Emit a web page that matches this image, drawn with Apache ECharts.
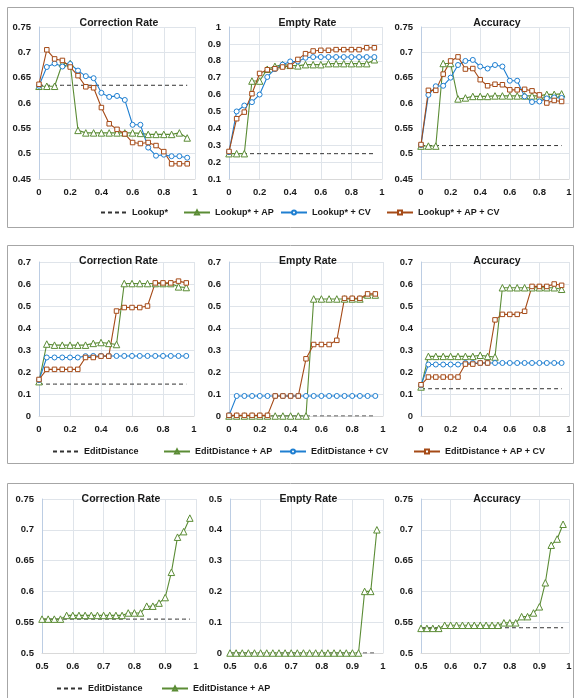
<!DOCTYPE html>
<html><head><meta charset="utf-8">
<script src="https://cdn.jsdelivr.net/npm/echarts@6/dist/echarts.min.js"></script>
<style>html,body{margin:0;padding:0;background:#fff}#c{width:575px;height:698px}</style>
</head><body><div id="c"></div>
<script>
// ---------- x positions ----------
const xsA = [0,0.05,0.1,0.15,0.2,0.25,0.3,0.35,0.4,0.45,0.5,0.55,0.6,0.65,0.7,0.75,0.8,0.85,0.9,0.95];
const xsB = [0.5,0.52,0.54,0.56,0.58,0.6,0.62,0.64,0.66,0.68,0.7,0.72,0.74,0.76,0.78,0.8,0.82,0.84,0.86,0.88,0.9,0.92,0.94,0.96,0.98];

// ---------- series names ----------
const namesRow1 = ["Lookup*","Lookup* + AP","Lookup* + CV","Lookup* + AP + CV"];
const namesRow2 = ["EditDistance","EditDistance + AP","EditDistance + CV","EditDistance + AP + CV"];
const namesRow3 = ["EditDistance","EditDistance + AP"];
const titles = ["Correction Rate","Empty Rate","Accuracy"];

// ---------- Row 1 (Lookup*) ----------
const r1CrBase = [0.635,0.635,0.635,0.635,0.635,0.635,0.635,0.635,0.635,0.635,0.635,0.635,0.635,0.635,0.635,0.635,0.635,0.635,0.635,0.635];
const r1CrAP   = [0.633,0.633,0.633,0.678,0.678,0.546,0.541,0.541,0.541,0.541,0.541,0.541,0.541,0.540,0.538,0.538,0.538,0.538,0.541,0.531];
const r1CrCV   = [0.634,0.671,0.678,0.672,0.677,0.664,0.653,0.649,0.620,0.612,0.614,0.606,0.557,0.557,0.512,0.496,0.498,0.495,0.495,0.492];
const r1CrAPCV = [0.637,0.705,0.687,0.684,0.671,0.654,0.632,0.630,0.591,0.559,0.548,0.539,0.522,0.520,0.522,0.516,0.504,0.480,0.480,0.480];

const r1ErBase = [0.25,0.25,0.25,0.25,0.25,0.25,0.25,0.25,0.25,0.25,0.25,0.25,0.25,0.25,0.25,0.25,0.25,0.25,0.25,0.25];
const r1ErAP   = [0.25,0.25,0.25,0.68,0.68,0.75,0.767,0.777,0.773,0.77,0.777,0.777,0.777,0.783,0.783,0.783,0.783,0.783,0.783,0.806];
const r1ErCV   = [0.259,0.50,0.535,0.555,0.60,0.704,0.751,0.777,0.796,0.796,0.818,0.822,0.822,0.822,0.822,0.822,0.822,0.822,0.822,0.822];
const r1ErAPCV = [0.263,0.457,0.496,0.605,0.725,0.747,0.753,0.763,0.769,0.808,0.842,0.858,0.862,0.862,0.866,0.866,0.866,0.866,0.877,0.877];

const r1AcBase = [0.516,0.516,0.516,0.516,0.516,0.516,0.516,0.516,0.516,0.516,0.516,0.516,0.516,0.516,0.516,0.516,0.516,0.516,0.516,0.516];
const r1AcAP   = [0.515,0.515,0.515,0.678,0.678,0.608,0.610,0.613,0.613,0.613,0.614,0.614,0.614,0.614,0.614,0.614,0.614,0.617,0.617,0.618];
const r1AcCV   = [0.517,0.616,0.633,0.634,0.650,0.675,0.683,0.685,0.672,0.668,0.675,0.672,0.644,0.644,0.613,0.602,0.603,0.609,0.611,0.610];
const r1AcAPCV = [0.518,0.625,0.625,0.657,0.683,0.691,0.667,0.668,0.646,0.634,0.637,0.636,0.626,0.626,0.627,0.624,0.616,0.600,0.605,0.603];

// ---------- Row 2 (EditDistance) ----------
const r2CrBase = [0.145,0.145,0.145,0.145,0.145,0.145,0.145,0.145,0.145,0.145,0.145,0.145,0.145,0.145,0.145,0.145,0.145,0.145,0.145,0.145];
const r2CrAP   = [0.156,0.327,0.322,0.322,0.322,0.322,0.322,0.330,0.334,0.330,0.325,0.602,0.602,0.602,0.602,0.602,0.602,0.602,0.587,0.584];
const r2CrCV   = [0.163,0.266,0.266,0.266,0.266,0.266,0.272,0.273,0.273,0.273,0.273,0.273,0.273,0.273,0.273,0.273,0.273,0.273,0.273,0.273];
const r2CrAPCV = [0.166,0.212,0.212,0.212,0.212,0.212,0.266,0.266,0.272,0.272,0.477,0.493,0.493,0.493,0.500,0.605,0.605,0.605,0.613,0.605];

const r2ErBase = [0,0,0,0,0,0,0,0,0,0,0,0,0,0,0,0,0,0,0,0];
const r2ErAP   = [0,0,0,0,0,0,0,0,0,0,0,0.532,0.532,0.532,0.532,0.532,0.532,0.532,0.55,0.55];
const r2ErCV   = [0.003,0.091,0.091,0.091,0.091,0.091,0.091,0.091,0.091,0.091,0.091,0.091,0.091,0.091,0.091,0.091,0.091,0.091,0.091,0.091];
const r2ErAPCV = [0.003,0.003,0.003,0.003,0.003,0.003,0.091,0.091,0.091,0.091,0.26,0.325,0.325,0.325,0.344,0.535,0.535,0.535,0.555,0.555];

const r2AcBase = [0.124,0.124,0.124,0.124,0.124,0.124,0.124,0.124,0.124,0.124,0.124,0.124,0.124,0.124,0.124,0.124,0.124,0.124,0.124,0.124];
const r2AcAP   = [0.132,0.271,0.271,0.271,0.271,0.271,0.271,0.271,0.276,0.271,0.268,0.583,0.583,0.583,0.583,0.583,0.583,0.583,0.583,0.576];
const r2AcCV   = [0.139,0.234,0.234,0.234,0.234,0.234,0.241,0.241,0.241,0.241,0.241,0.241,0.241,0.241,0.241,0.241,0.241,0.241,0.241,0.241];
const r2AcAPCV = [0.142,0.177,0.177,0.177,0.177,0.177,0.236,0.236,0.241,0.241,0.437,0.462,0.462,0.462,0.476,0.589,0.589,0.589,0.600,0.594];

// ---------- Row 3 (EditDistance, threshold 0.5 - 1) ----------
const r3CrBase = [0.555,0.555,0.555,0.555,0.555,0.555,0.555,0.555,0.555,0.555,0.555,0.555,0.555,0.555,0.555,0.555,0.555,0.555,0.555,0.555,0.555,0.555,0.555,0.555,0.555];
const r3CrAP   = [0.555,0.555,0.555,0.555,0.561,0.561,0.561,0.561,0.561,0.561,0.561,0.561,0.561,0.561,0.565,0.565,0.565,0.576,0.576,0.581,0.590,0.631,0.688,0.697,0.719];
const r3ErBase = [0,0,0,0,0,0,0,0,0,0,0,0,0,0,0,0,0,0,0,0,0,0,0,0,0];
const r3ErAP   = [0,0,0,0,0,0,0,0,0,0,0,0,0,0,0,0,0,0,0,0,0,0,0.2,0.2,0.4];
const r3AcBase = [0.541,0.541,0.541,0.541,0.541,0.541,0.541,0.541,0.541,0.541,0.541,0.541,0.541,0.541,0.541,0.541,0.541,0.541,0.541,0.541,0.541,0.541,0.541,0.541,0.541];
const r3AcAP   = [0.540,0.540,0.540,0.540,0.545,0.545,0.545,0.545,0.545,0.545,0.545,0.545,0.545,0.545,0.549,0.549,0.549,0.559,0.559,0.565,0.575,0.614,0.675,0.685,0.709];

// ---------- styling / layout ----------
const FONT = "'Liberation Sans', Arial, sans-serif";
const C = {base:'#333333', ap:'#5b8c35', cv:'#1f7fd1', apcv:'#a54a17'};
const SYM = {ap:['triangle',6.5], cv:['circle',5], apcv:['rect',4.5]};

// grid boxes: [left, top, width, height]
const grids = [
  [39,27,156,152],[229,27,153,152],[421,27,148,152],
  [39,262,155,154],[229,262,154,154],[421,262,148,154],
  [42,499,154,154],[230,499,153,154],[421,499,148,154]
];
// axis ranges: [xmin,xmax,xint,ymin,ymax,yint]
const ranges = [
  [0,1,0.2,0.45,0.75,0.05],[0,1,0.2,0.1,1,0.1],[0,1,0.2,0.45,0.75,0.05],
  [0,1,0.2,0,0.7,0.1],[0,1,0.2,0,0.7,0.1],[0,1,0.2,0,0.7,0.1],
  [0.5,1,0.1,0.5,0.75,0.05],[0.5,1,0.1,0,0.5,0.1],[0.5,1,0.1,0.5,0.75,0.05]
];

const seriesDefs = [
  [0, xsA, [[namesRow1[0],'base',r1CrBase],[namesRow1[1],'ap',r1CrAP],[namesRow1[2],'cv',r1CrCV],[namesRow1[3],'apcv',r1CrAPCV]]],
  [1, xsA, [[namesRow1[0],'base',r1ErBase],[namesRow1[1],'ap',r1ErAP],[namesRow1[2],'cv',r1ErCV],[namesRow1[3],'apcv',r1ErAPCV]]],
  [2, xsA, [[namesRow1[0],'base',r1AcBase],[namesRow1[1],'ap',r1AcAP],[namesRow1[2],'cv',r1AcCV],[namesRow1[3],'apcv',r1AcAPCV]]],
  [3, xsA, [[namesRow2[0],'base',r2CrBase],[namesRow2[1],'ap',r2CrAP],[namesRow2[2],'cv',r2CrCV],[namesRow2[3],'apcv',r2CrAPCV]]],
  [4, xsA, [[namesRow2[0],'base',r2ErBase],[namesRow2[1],'ap',r2ErAP],[namesRow2[2],'cv',r2ErCV],[namesRow2[3],'apcv',r2ErAPCV]]],
  [5, xsA, [[namesRow2[0],'base',r2AcBase],[namesRow2[1],'ap',r2AcAP],[namesRow2[2],'cv',r2AcCV],[namesRow2[3],'apcv',r2AcAPCV]]],
  [6, xsB, [[namesRow3[0],'base',r3CrBase],[namesRow3[1],'ap',r3CrAP]]],
  [7, xsB, [[namesRow3[0],'base',r3ErBase],[namesRow3[1],'ap',r3ErAP]]],
  [8, xsB, [[namesRow3[0],'base',r3AcBase],[namesRow3[1],'ap',r3AcAP]]]
];

const series = [];
seriesDefs.forEach(([gi, xs, list]) => {
  list.forEach(([name, kind, ys]) => {
    const s = {
      type:'line', name, xAxisIndex:gi, yAxisIndex:gi,
      data: xs.map((x,i)=>[x, ys[i]]),
      animation:false, silent:true
    };
    if (kind === 'base') {
      s.symbol = 'none';
      s.lineStyle = {color:C.base, width:1, type:[4,3]};
      s.itemStyle = {color:C.base};
      s.z = 1;
    } else {
      s.symbol = SYM[kind][0];
      s.symbolSize = SYM[kind][1];
      s.showSymbol = true;
      s.lineStyle = {color:C[kind], width:1.1};
      s.itemStyle = {color:'#ffffff', borderColor:C[kind], borderWidth:1};
      s.z = 2;
    }
    series.push(s);
  });
});

const gridOpt = grids.map(g=>({left:g[0], top:g[1], width:g[2], height:g[3], containLabel:false}));
const labelStyle = {fontFamily:FONT, fontWeight:'bold', fontSize:9.5, color:'#1a1a1a'};
const xAxes = ranges.map((r,i)=>({
  type:'value', gridIndex:i, min:r[0], max:r[1], interval:r[2],
  axisLine:{show:true, lineStyle:{color:'#d9d9d9', width:1}},
  axisTick:{show:false},
  splitLine:{show:true, lineStyle:{color:'#dfe4ea', width:1}},
  axisLabel:Object.assign({margin:8}, labelStyle)
}));
const yAxes = ranges.map((r,i)=>({
  type:'value', gridIndex:i, min:r[3], max:r[4], interval:r[5],
  axisLine:{show:true, lineStyle:{color:'#bccde3', width:1}},
  axisTick:{show:false},
  splitLine:{show:true, lineStyle:{color:'#dfe4ea', width:1}},
  axisLabel:Object.assign({margin:8}, labelStyle)
}));

const titleOpt = [];
const titleY = [13, 251, 489];
grids.forEach((g,i)=>{
  titleOpt.push({
    text: titles[i%3], left: g[0]+g[2]/2 - 3, top: titleY[Math.floor(i/3)], textAlign:'center',
    textStyle:{fontFamily:FONT, fontWeight:'bold', fontSize:10.5, color:'#1a1a1a'}
  });
});

// legends: one component per item so each sits where it is in the picture
const legendItems = [
  [namesRow1[0],100,208,true],[namesRow1[1],183,208,false],[namesRow1[2],280,208,false],[namesRow1[3],386,208,false],
  [namesRow2[0],52,447,true],[namesRow2[1],163,447,false],[namesRow2[2],279,447,false],[namesRow2[3],413,447,false],
  [namesRow3[0],56,684,true],[namesRow3[1],161,684,false]
];
const legends = legendItems.map(([name,l,t,isBase])=>({
  data:[isBase ? {name, itemStyle:{opacity:0}} : {name}],
  left:l, top:t, itemWidth:26, itemHeight:5, itemGap:0, padding:0,
  selectedMode:false,
  textStyle:{fontFamily:FONT, fontWeight:'bold', fontSize:9, color:'#1a1a1a', padding:[0,0,0,0]}
}));

const panelStyle = {fill:'none', stroke:'#a6a6a6', lineWidth:1};
const graphic = [
  {type:'rect', shape:{x:7.5, y:7.5, width:566, height:220}, style:panelStyle, silent:true, z:-10},
  {type:'rect', shape:{x:7.5, y:245.5, width:566, height:218}, style:panelStyle, silent:true, z:-10},
  {type:'rect', shape:{x:7.5, y:483.5, width:566, height:240}, style:panelStyle, silent:true, z:-10}
];

const chart = echarts.init(document.getElementById('c'), null, {renderer:'canvas'});
chart.setOption({
  backgroundColor:'#ffffff',
  animation:false,
  title: titleOpt,
  legend: legends,
  grid: gridOpt,
  xAxis: xAxes,
  yAxis: yAxes,
  series: series,
  graphic: graphic
});
</script>
</body></html>
